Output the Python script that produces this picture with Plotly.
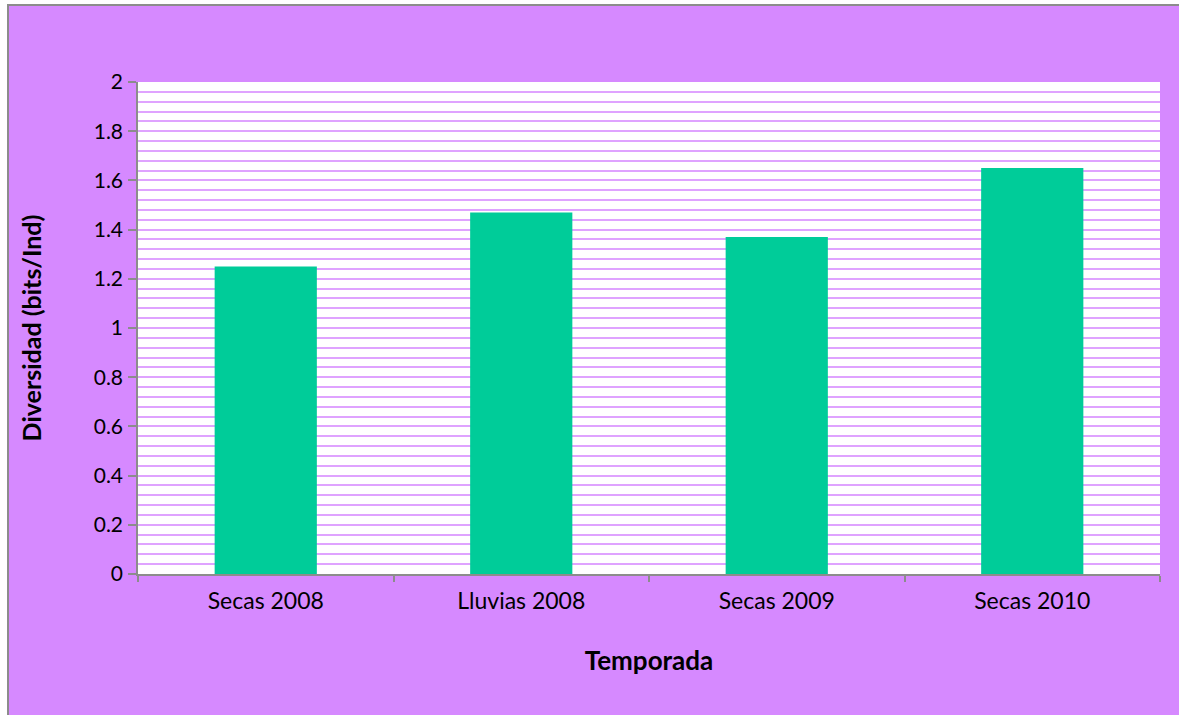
import plotly.graph_objects as go

# Shannon diversity per sampling season
temporadas = ["Secas 2008", "Lluvias 2008", "Secas 2009", "Secas 2010"]
diversidad = [1.25, 1.47, 1.37, 1.65]
y_ticks = [0, 0.2, 0.4, 0.6, 0.8, 1, 1.2, 1.4, 1.6, 1.8, 2]
y_tick_labels = ["0", "0.2", "0.4", "0.6", "0.8", "1", "1.2", "1.4", "1.6", "1.8", "2"]

FONT = "Lato, Open Sans, sans-serif"
BG = "#D689FF"
GRID = "#DFA3FF"
AXIS = "#8C8C8C"

# plot-area geometry in pixels, used to place the chart-area frame
W, H = 1179, 715
L, R, T, B = 138, 19, 82, 141
PW, PH = W - L - R, H - T - B


def px_x(px):
    return (px - L) / PW


def px_y(py):
    return (H - B - py) / PH


fig = go.Figure(
    go.Bar(
        x=temporadas,
        y=diversidad,
        marker=dict(color="#00CC99", line=dict(width=0)),
        hoverinfo="x+y",
    )
)

frame = [
    # white page margin outside the chart area
    dict(type="rect", xref="paper", yref="paper", layer="above",
         x0=px_x(-5), x1=px_x(7), y0=px_y(H + 5), y1=px_y(-5),
         fillcolor="white", line=dict(width=0)),
    dict(type="rect", xref="paper", yref="paper", layer="above",
         x0=px_x(-5), x1=px_x(W + 5), y0=px_y(4), y1=px_y(-5),
         fillcolor="white", line=dict(width=0)),
    # chart-area border (top and left edges)
    dict(type="line", xref="paper", yref="paper", layer="above",
         x0=px_x(7), x1=px_x(W + 5), y0=px_y(5), y1=px_y(5),
         line=dict(color=AXIS, width=2)),
    dict(type="line", xref="paper", yref="paper", layer="above",
         x0=px_x(8), x1=px_x(8), y0=px_y(H + 5), y1=px_y(4),
         line=dict(color=AXIS, width=2)),
]

fig.update_layout(
    width=W,
    height=H,
    paper_bgcolor=BG,
    plot_bgcolor="white",
    margin=dict(l=L, r=R, t=T, b=B),
    bargap=0.6,
    showlegend=False,
    font=dict(family=FONT, size=22, color="black"),
    shapes=frame,
)

fig.update_xaxes(
    type="category",
    tickson="boundaries",
    ticks="outside",
    ticklen=6,
    tickcolor=AXIS,
    tickwidth=1.5,
    showline=True,
    linecolor=AXIS,
    linewidth=1.5,
    showgrid=False,
    ticklabelstandoff=6,
    tickfont=dict(family=FONT, size=23),
    title=dict(text="<b>Temporada</b>", font=dict(family=FONT, size=26), standoff=38),
)

fig.update_yaxes(
    range=[0, 2],
    tickvals=y_ticks,
    ticktext=y_tick_labels,
    ticks="outside",
    ticklen=8,
    tickcolor=AXIS,
    tickwidth=1.5,
    showline=True,
    linecolor=AXIS,
    linewidth=1.5,
    showgrid=False,
    zeroline=False,
    minor=dict(dtick=0.04, tick0=0, showgrid=True, gridcolor=GRID, gridwidth=2, ticks=""),
    ticklabelstandoff=1,
    tickfont=dict(family=FONT, size=21),
    title=dict(text="<b>Diversidad (bits/Ind)</b>", font=dict(family=FONT, size=25), standoff=45),
)

fig.write_html("out.html")
